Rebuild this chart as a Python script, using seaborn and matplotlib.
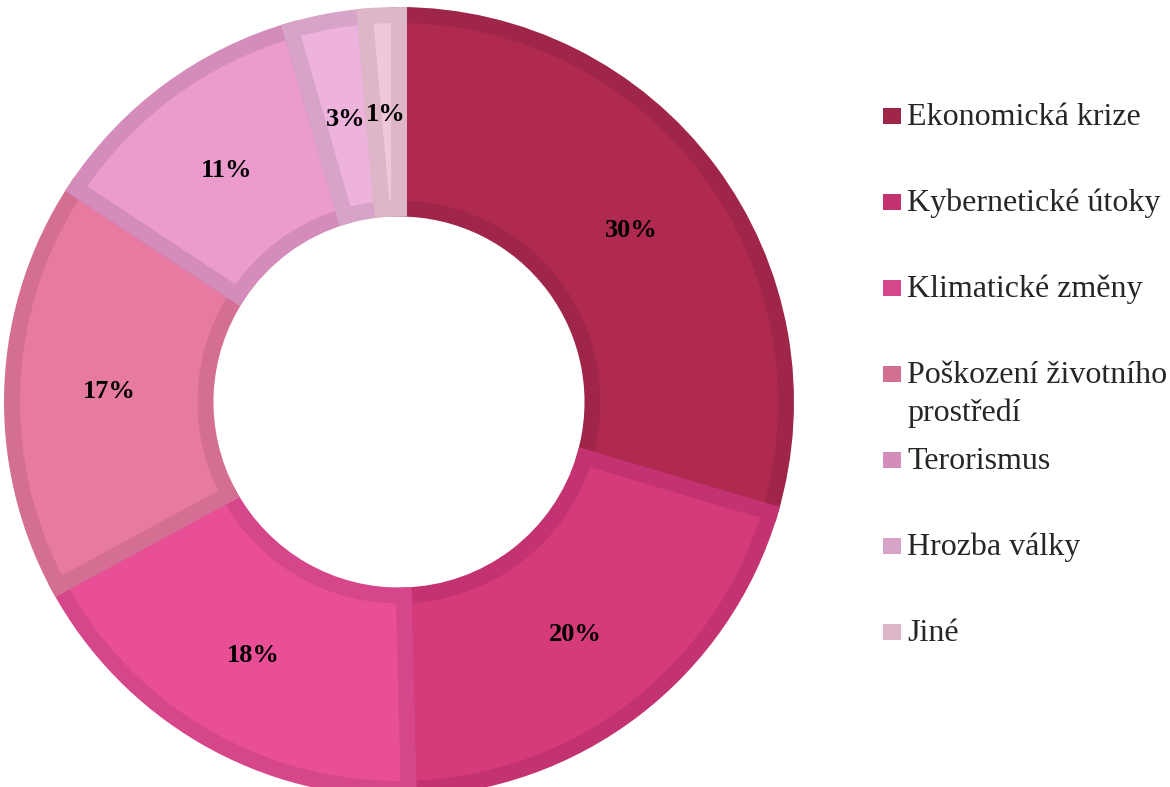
import matplotlib.pyplot as plt
from matplotlib.patches import Rectangle
import seaborn as sns

# ── Data ──────────────────────────────────────────────────────────────────────
categories = ['Ekonomická krize', 'Kybernetické útoky', 'Klimatické změny',
              'Poškození životního\nprostředí', 'Terorismus', 'Hrozba války', 'Jiné']
# shares (labels shown rounded)
shares = [29.6, 20.0, 17.5, 17.2, 11.2, 3.1, 1.4]
fill_colors = ['#B0294F', '#D53A79', '#E84F96', '#E67AA1', '#EB9BCC', '#EDB3DC', '#F0C8DA']
edge_colors = ['#A02649', '#C33271', '#D5478A', '#D46E93', '#D48CBB', '#D8A3C9', '#DDB7C7']

# ── Setup ─────────────────────────────────────────────────────────────────────
sns.set_theme(style="white")
plt.rcParams['font.family'] = ['Liberation Serif', 'DejaVu Serif']

W, H = 1170, 787
fig = plt.figure(figsize=(W / 100, H / 100), dpi=100)
ax = fig.add_axes([12 / W, -2 / H, 774 / W, 774 / H])

wedges, texts, autotexts = ax.pie(
    shares, colors=fill_colors, startangle=90, counterclock=False,
    radius=1, autopct=lambda p: f'{p:.0f}%', pctdistance=0.75,
    wedgeprops=dict(width=0.5),
    textprops=dict(fontsize=19, fontweight='bold', color='black'))
for t in autotexts:
    t.set_va('center_baseline')

# inner border: clip a thick edge to the wedge itself
for w, ec in zip(wedges, edge_colors):
    w.set_edgecolor(ec)
    w.set_linewidth(11.5)
    w.set_clip_path(w)

ax.set_xlim(-1, 1)
ax.set_ylim(-1, 1)
ax.set_aspect('equal')
ax.axis('off')

# ── Legend (Excel-like uniform spacing) ───────────────────────────────────────
x_box, x_txt = 883 / W, 907 / W
y0, step, line_h = 116, 86, 38
for i, (lab, ec) in enumerate(zip(categories, edge_colors)):
    yc = y0 + i * step
    fig.patches.append(Rectangle((x_box, 1 - (yc + 8) / H), 18 / W, 16 / H,
                                 transform=fig.transFigure, facecolor=ec,
                                 edgecolor='none'))
    for k, line in enumerate(lab.split('\n')):
        fig.text(x_txt, 1 - (yc + 9 + k * line_h) / H, line, fontsize=23,
                 va='baseline', ha='left')

plt.savefig('out.png', dpi=100)
plt.close()
